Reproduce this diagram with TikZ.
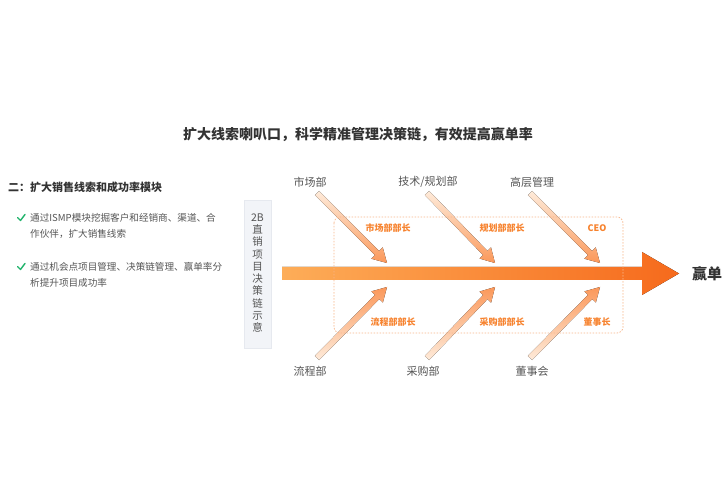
\documentclass[tikz,border=0pt]{standalone}
\usepackage{fontspec}
\setmainfont{Noto Sans CJK SC}
\usetikzlibrary{calc}
\definecolor{txtdark}{HTML}{333333}
\definecolor{txtgray}{HTML}{555555}
\definecolor{orlab}{HTML}{F7832F}
\definecolor{orpale}{HTML}{FEEBDA}
\definecolor{ordeep}{HTML}{FB985A}
\definecolor{barL}{HTML}{FDAD58}
\definecolor{barR}{HTML}{F66A1C}
\definecolor{dashc}{HTML}{F8B68A}
\definecolor{sidefill}{HTML}{F2F4F8}
\definecolor{sideline}{HTML}{E6E9EF}
\definecolor{checkg}{HTML}{1FB36B}
\newcommand{\fsz}[2]{\fontsize{#1}{#2}\selectfont}
\newcommand{\fishbone}[4]{%
  \coordinate (hb) at ($(#2)!14pt!(#1)$);
  \fill[top color=#3,bottom color=#4]
    ($(#1)!3pt!90:(#2)$) -- ($(hb)!3pt!90:(#2)$) -- ($(hb)!8pt!90:(#2)$) -- (#2)
    -- ($(hb)!8pt!-90:(#2)$) -- ($(hb)!3pt!-90:(#2)$) -- ($(#1)!3pt!-90:(#2)$) -- cycle;
}
\tikzset{
  dept/.style={font=\fsz{11}{13}, text=txtgray, inner sep=0pt},
  role/.style={font=\bfseries\fsz{9}{11}, text=orlab, inner sep=0pt},
  bodytxt/.style={font=\fsz{9.6}{12}, text=txtgray, inner sep=0pt, anchor=west},
  checkmk/.style={draw=checkg, line width=1.4pt, line cap=round, line join=round},
}
\begin{document}
\begin{tikzpicture}[x=1pt,y=-1pt]
\useasboundingbox[fill=white] (0,0) rectangle (724,500);

% title
\node[font=\bfseries\fsz{14}{16}, text=txtdark, inner sep=0pt] (title) at (358,135) {扩大线索喇叭口，科学精准管理决策链，有效提高赢单率};

% left text
\node[font=\bfseries\fsz{11}{13}, text=txtdark, inner sep=0pt, anchor=west] (head) at (8,187) {二：扩大销售线索和成功率模块};
\node[bodytxt] (b1a) at (30,218) {通过ISMP模块挖掘客户和经销商、渠道、合};
\node[bodytxt] (b1b) at (30,234) {作伙伴，扩大销售线索};
\node[bodytxt] (b2a) at (30,267) {通过机会点项目管理、决策链管理、赢单率分};
\node[bodytxt] (b2b) at (30,283) {析提升项目成功率};
\draw[checkmk] (17.5,217.5) -- (20.5,220.5) -- (25,214.5);
\draw[checkmk] (17.5,266.5) -- (20.5,269.5) -- (25,263.5);

% side box
\node[draw=sideline, fill=sidefill, line width=0.6pt, minimum width=27pt, minimum height=148pt, inner sep=0pt] (side) at (257.5,274) {};
\node[font=\fsz{10.5}{12.3}, text=txtgray, align=center, inner sep=0pt] (sidetxt) at (257.5,273) {2B\\直\\销\\项\\目\\决\\策\\链\\示\\意};

% main bar
\coordinate (barstart) at (282,273.5);
\coordinate (bartip) at (679,273.5);
\fill[left color=barL, right color=barR]
  (barstart) ++(0,-6.5) -- (642,267) -- (642,252) -- (bartip) -- (642,295) -- (642,280) -- (282,280) -- cycle;
\node[font=\bfseries\fsz{15}{17}, text=txtdark, inner sep=0pt, anchor=west] (win) at (692,273.5) {赢单};

% fishbone arrows
\coordinate (s1) at (317,193); \coordinate (t1) at (387,263);
\coordinate (s2) at (427,193); \coordinate (t2) at (495,263);
\coordinate (s3) at (530,193); \coordinate (t3) at (600,263);
\coordinate (s4) at (317,358); \coordinate (t4) at (387,287);
\coordinate (s5) at (427,358); \coordinate (t5) at (495,287);
\coordinate (s6) at (530,358); \coordinate (t6) at (600,287);
\fishbone{s1}{t1}{orpale}{ordeep}
\fishbone{s2}{t2}{orpale}{ordeep}
\fishbone{s3}{t3}{orpale}{ordeep}
\fishbone{s4}{t4}{ordeep}{orpale}
\fishbone{s5}{t5}{ordeep}{orpale}
\fishbone{s6}{t6}{ordeep}{orpale}

% dashed box
\draw[dashc, line width=0.7pt, dash pattern=on 1.5pt off 1.5pt, rounded corners=6pt] (334,217) rectangle (623,333);

% labels
\node[dept] (d1) at (310,182) {市场部};
\node[dept] (d2) at (428,182) {技术/规划部};
\node[dept] (d3) at (532,182) {高层管理};
\node[dept] (d4) at (310,371) {流程部};
\node[dept] (d5) at (423,371) {采购部};
\node[dept] (d6) at (532,371) {董事会};

\node[role] (r1) at (388,228) {市场部部长};
\node[role] (r2) at (502,228) {规划部部长};
\node[role] (r3) at (597,228) {CEO};
\node[role] (r4) at (393,322) {流程部部长};
\node[role] (r5) at (502,322) {采购部部长};
\node[role] (r6) at (597,322) {董事长};
\end{tikzpicture}
\end{document}
